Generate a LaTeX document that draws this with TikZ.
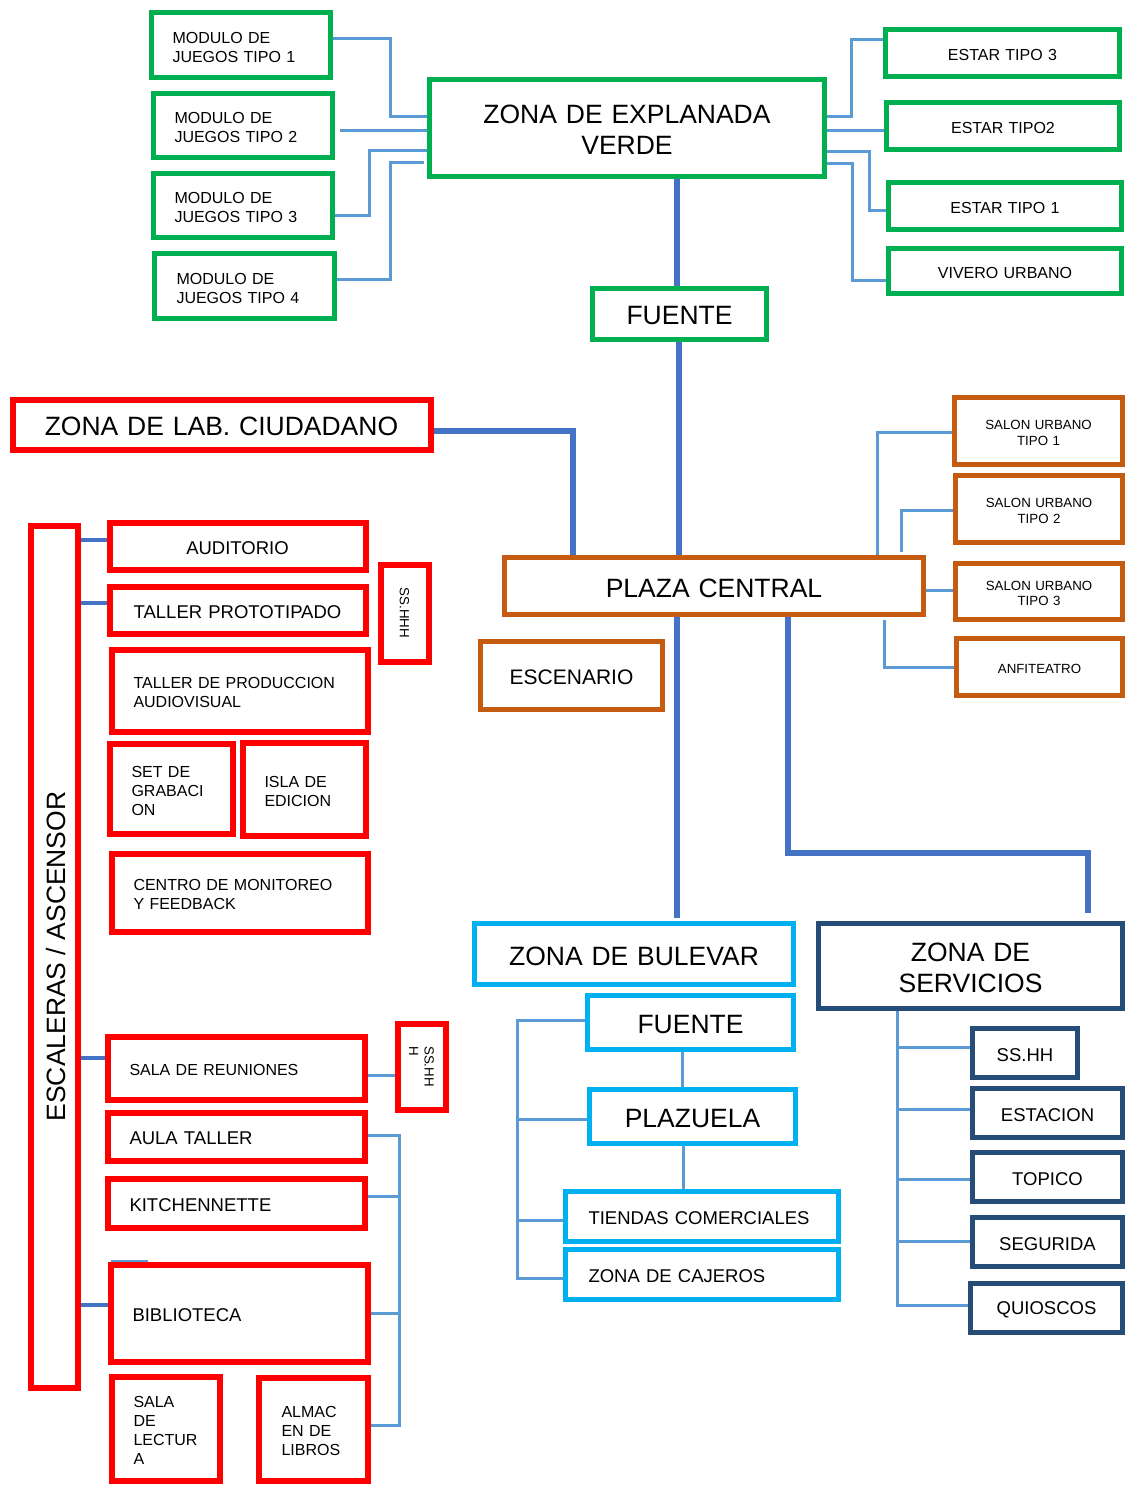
\documentclass[tikz,border=0pt]{standalone}
\usepackage{fontspec}
\setmainfont{Liberation Sans}
\definecolor{cgreen}{HTML}{00B050}
\definecolor{cred}{HTML}{FF0000}
\definecolor{corange}{HTML}{C55A11}
\definecolor{ccyan}{HTML}{00B0F0}
\definecolor{cdark}{HTML}{254D78}
\definecolor{clight}{HTML}{5B9BD5}
\definecolor{cthick}{HTML}{4472C4}
\newcommand\bxnode[8]{%
\pgfmathsetmacro\mybw{#5-#3-5-2*#7}%
\pgfmathsetmacro\mybwf{#5-#3-5}%
\pgfmathsetmacro\mybh{#6-#4-5}%
\pgfmathsetmacro\mybx{(#3+#5)/2}%
\pgfmathsetmacro\myby{(#4+#6)/2}%
\node[#1, minimum width=\mybwf pt, minimum height=\mybh pt, inner sep=0pt] (#2) at (\mybx,\myby) {};
\node[#1, draw=none, fill=none, text width=\mybw pt, inner xsep=#7pt, inner ysep=0pt, yshift=-2pt] (#2-t) at (#2.center) {#8};}
\tikzset{
  box/.style={draw, fill=white, rectangle, line width=5pt},
  gbox/.style={box, draw=cgreen},
  rbox/.style={box, draw=cred, line width=6pt},
  obox/.style={box, draw=corange},
  cbox/.style={box, draw=ccyan},
  dbox/.style={box, draw=cdark},
  fL/.style={font=\fontsize{26.5}{31}\selectfont},
  fE/.style={font=\fontsize{21}{25}\selectfont},
  fM/.style={font=\fontsize{18.5}{22}\selectfont},
  fS/.style={font=\fontsize{16}{19}\selectfont},
  fX/.style={font=\fontsize{13.3}{15.5}\selectfont},
  L/.style={align=left},
  C/.style={align=center},
  conn/.style={draw=clight, line width=3pt},
  thick line/.style={draw=cthick, line width=6pt},
  tick/.style={draw=cthick, line width=4pt},
}
\begin{document}
\begin{tikzpicture}[x=1pt,y=-1pt]
\fill[white] (0,0) rectangle (1126,1485);
\useasboundingbox (0,0) rectangle (1126,1485);

% ---------- green ----------
\bxnode{gbox,fS,L}{mj1}{149}{10}{333}{80}{21}{MODULO DE\\JUEGOS TIPO 1}
\bxnode{gbox,fS,L}{mj2}{151}{91}{335}{160}{21}{MODULO DE\\JUEGOS TIPO 2}
\bxnode{gbox,fS,L}{mj3}{151}{171}{335}{240}{21}{MODULO DE\\JUEGOS TIPO 3}
\bxnode{gbox,fS,L}{mj4}{152}{251}{337}{321}{22}{MODULO DE\\JUEGOS TIPO 4}
\bxnode{gbox,fL,C}{zev}{427}{77}{827}{179}{4}{ZONA DE EXPLANADA\\VERDE}
\bxnode{gbox,fS,C}{et3}{883}{27}{1122}{79}{4}{ESTAR TIPO 3}
\bxnode{gbox,fS,C}{et2}{884}{100}{1122}{152}{4}{ESTAR TIPO2}
\bxnode{gbox,fS,C}{et1}{886}{180}{1124}{232}{4}{ESTAR TIPO 1}
\bxnode{gbox,fS,C}{viv}{886}{246}{1124}{296}{4}{VIVERO URBANO}
\bxnode{gbox,fL,C}{fue1}{590}{286}{769}{342}{4}{FUENTE}

% ---------- red ----------
\bxnode{rbox,fL,C}{lab}{10}{397}{433}{452}{4}{ZONA DE LAB. CIUDADANO}
\bxnode{rbox,C}{esc}{28}{523}{80}{1390}{0}{}
\node[fL, rotate=90] (esct) at ([xshift=2pt]esc.center) {ESCALERAS / ASCENSOR};
\bxnode{rbox,fM,C}{aud}{107}{520}{368}{572}{4}{AUDITORIO}
\bxnode{rbox,fM,C}{tpr}{107}{584}{368}{636}{4}{TALLER PROTOTIPADO}
\bxnode{rbox,C}{ssh1}{378}{562}{431}{664}{0}{}
\node[fX, rotate=-90] (ssh1t) at (ssh1.center) {SS.HHH};
\bxnode{rbox,fS,L}{tpa}{109}{647}{370}{734}{22}{TALLER DE PRODUCCION\\AUDIOVISUAL}
\bxnode{rbox,fS,L}{set}{107}{741}{235}{836}{22}{SET DE\\GRABACI\\ON}
\bxnode{rbox,fS,L}{isla}{240}{740}{368}{838}{22}{ISLA DE\\EDICION}
\bxnode{rbox,fS,L}{cen}{109}{851}{370}{934}{22}{CENTRO DE MONITOREO\\Y FEEDBACK}
\bxnode{rbox,fS,L}{sal}{105}{1034}{367}{1102}{22}{SALA DE REUNIONES}
\bxnode{rbox,C}{ssh2}{395}{1021}{448}{1112}{0}{}
\node[fX, rotate=-90, align=left] (ssh2t) at (ssh2.center) {SS.HH\\H};
\bxnode{rbox,fM,L}{aul}{105}{1110}{367}{1163}{22}{AULA TALLER}
\bxnode{rbox,fM,L}{kit}{105}{1176}{367}{1230}{22}{KITCHENNETTE}
\bxnode{rbox,fM,L}{bib}{108}{1262}{370}{1364}{22}{BIBLIOTECA}
\bxnode{rbox,fS,L}{sle}{109}{1374}{222}{1483}{22}{SALA\\DE\\LECTUR\\A}
\bxnode{rbox,fS,L}{alm}{256}{1375}{370}{1483}{23}{ALMAC\\EN DE\\LIBROS}

% ---------- orange ----------
\bxnode{obox,fL,C}{pc}{502}{555}{926}{617}{4}{PLAZA CENTRAL}
\bxnode{obox,fE,C}{esn}{478}{639}{665}{712}{4}{ESCENARIO}
\bxnode{obox,fX,C}{su1}{952}{395}{1125}{467}{4}{SALON URBANO\\TIPO 1}
\bxnode{obox,fX,C}{su2}{953}{473}{1125}{545}{4}{SALON URBANO\\TIPO 2}
\bxnode{obox,fX,C}{su3}{953}{561}{1125}{622}{4}{SALON URBANO\\TIPO 3}
\bxnode{obox,fX,C}{anf}{954}{636}{1125}{698}{4}{ANFITEATRO}

% ---------- cyan ----------
\bxnode{cbox,fL,C}{bul}{472}{921}{796}{987}{4}{ZONA DE BULEVAR}
\bxnode{cbox,fL,C}{fue2}{585}{993}{796}{1052}{4}{FUENTE}
\bxnode{cbox,fL,C}{plz}{587}{1087}{798}{1146}{4}{PLAZUELA}
\bxnode{cbox,fM,L}{tie}{563}{1189}{841}{1244}{23}{TIENDAS COMERCIALES}
\bxnode{cbox,fM,L}{caj}{563}{1247}{841}{1302}{23}{ZONA DE CAJEROS}

% ---------- dark blue ----------
\bxnode{dbox,fL,C}{ser}{816}{921}{1125}{1011}{4}{ZONA DE\\SERVICIOS}
\bxnode{dbox,fM,C}{ssd}{970}{1026}{1080}{1080}{4}{SS.HH}
\bxnode{dbox,fM,C}{est}{970}{1086}{1125}{1140}{4}{ESTACION}
\bxnode{dbox,fM,C}{topi}{970}{1150}{1125}{1204}{4}{TOPICO}
\bxnode{dbox,fM,C}{seg}{970}{1215}{1125}{1269}{4}{SEGURIDA}
\bxnode{dbox,fM,C}{qui}{968}{1281}{1125}{1335}{4}{QUIOSCOS}

% ---------- connectors: explanada ----------
\draw[conn] (mj1.east |- 0,39) -| (390,117) -- (zev.west |- 0,117);
\draw[conn, shorten <=5pt] (mj2.east |- 0,131) -- (zev.west |- 0,131);
\draw[conn] (mj3.east |- 0,215) -| (369,150) -- (zev.west |- 0,150);
\draw[conn, shorten >=3pt] (mj4.east |- 0,279) -| (390,162) -- (zev.west |- 0,162);
\draw[conn] (zev.east |- 0,117) -| (851,40) -- (et3.west |- 0,40);
\draw[conn] (zev.east |- 0,131) -- (et2.west |- 0,131);
\draw[conn] (zev.east |- 0,151) -| (869,210) -- (et1.west |- 0,210);
\draw[conn] (zev.east |- 0,163) -| (852,280) -- (viv.west |- 0,280);

% ---------- thick connectors ----------
\draw[thick line] (zev.south -| 677,0) -- (fue1.north -| 677,0);
\draw[thick line] (fue1.south -| 679,0) -- (pc.north -| 679,0);
\draw[thick line] (lab.east |- 0,431) -| (pc.north -| 573,0);
\draw[thick line, shorten >=3pt] (pc.south -| 677,0) -- (bul.north -| 677,0);
\draw[thick line, shorten >=8pt] (pc.south -| 788,0) |- (1088,853) -- (ser.north -| 1088,0);

% ---------- plaza central ----------
\draw[conn] (pc.north -| 877,0) |- (su1.west |- 0,432);
\draw[conn, shorten <=3pt] (pc.north -| 901,0) |- (su2.west |- 0,510);
\draw[conn] (pc.east |- 0,590) -- (su3.west |- 0,590);
\draw[conn, shorten <=3pt] (pc.south -| 884,0) |- (anf.west |- 0,667);

% ---------- escaleras ----------
\draw[tick] (esc.east |- 0,540) -- (aud.west |- 0,540);
\draw[tick] (esc.east |- 0,603) -- (tpr.west |- 0,603);
\draw[tick] (esc.east |- 0,1058) -- (sal.west |- 0,1058);
\draw[tick] (esc.east |- 0,1305) -- (bib.west |- 0,1305);
\draw[conn] (sal.east |- 0,1075) -- (ssh2.west |- 0,1075);
\draw[conn] (aul.east |- 0,1135) -| (399,1425) -- (alm.east |- 0,1425);
\draw[conn] (kit.east |- 0,1196) -- (399,1196);
\draw[conn] (bib.east |- 0,1313) -- (399,1313);
\draw[draw=clight, line width=2pt] (bib.north west |- 0,1261) ++(3,0) -- ++(37,0);

% ---------- bulevar ----------
\draw[conn] (fue2.west |- 0,1020) -| (517,1278) -- (caj.west |- 0,1278);
\draw[conn] (517,1119) -- (plz.west |- 0,1119);
\draw[conn] (517,1220) -- (tie.west |- 0,1220);
\draw[conn] (fue2.south -| 682,0) -- (plz.north -| 682,0);
\draw[conn] (plz.south -| 683,0) -- (tie.north -| 683,0);

% ---------- servicios ----------
\draw[conn] (ser.south -| 897,0) |- (qui.west |- 0,1305);
\draw[conn] (897,1047) -- (ssd.west |- 0,1047);
\draw[conn] (897,1109) -- (est.west |- 0,1109);
\draw[conn] (897,1179) -- (topi.west |- 0,1179);
\draw[conn] (897,1241) -- (seg.west |- 0,1241);
\end{tikzpicture}
\end{document}
